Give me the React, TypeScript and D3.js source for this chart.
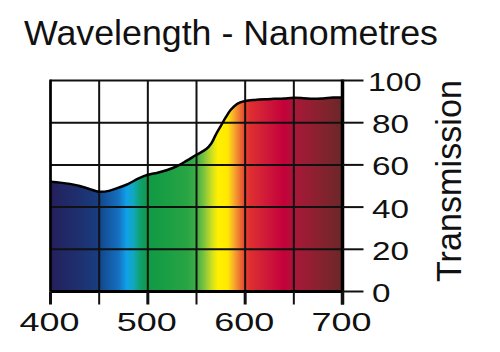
import React from "react";
import * as d3 from "d3";

const wavelengths = [400, 410, 420, 430, 440, 450, 460, 470, 480, 490, 500, 510, 520, 530, 540, 550, 560, 565, 570, 575, 580, 585, 590, 595, 600, 610, 620, 630, 640, 650, 660, 670, 680, 690, 700];
const transmission = [52, 51.6, 51, 50, 48.6, 47.3, 47.7, 49.2, 51, 53.5, 55.3, 56.3, 57.6, 59.4, 62, 64.8, 67.5, 70, 74.5, 78.5, 82.5, 86, 88.3, 89.6, 90.3, 90.8, 91.1, 91.3, 91.5, 91.8, 91.6, 91.3, 91.5, 91.9, 92];
const xTicks = [400, 450, 500, 550, 600, 650, 700];
const xLabels = [400, 500, 600, 700];
const yTicks = [0, 20, 40, 60, 80, 100];
const stopWl = [400, 430, 450, 452, 470, 478, 485, 492, 500, 540, 550, 558, 566, 572, 582, 587, 593, 598, 604, 620, 640, 651, 672, 700];
const stopColors = ["#24205c", "#1e3070", "#183e80", "#124a90", "#1570c0", "#10a0e8", "#10a8c0", "#10a070", "#0e9a44", "#28a444", "#3cae46", "#80c43c", "#d0e020", "#fff000", "#ffe800", "#f8b828", "#f08030", "#e85030", "#e03030", "#d01c38", "#c4003a", "#a81838", "#8e2030", "#6a2828"];

export default function App() {
  const W = 500, H = 352;
  const x = d3.scaleLinear().domain([400, 700]).range([50.5, 342.5]);
  const y = d3.scaleLinear().domain([0, 100]).range([291.5, 80.5]);
  const data = wavelengths.map((w, i) => ({ w, t: transmission[i] }));
  const area = d3.area<{ w: number; t: number }>()
    .x(d => x(d.w)).y0(y(0)).y1(d => y(d.t)).curve(d3.curveCatmullRom);
  const line = d3.line<{ w: number; t: number }>()
    .x(d => x(d.w)).y(d => y(d.t)).curve(d3.curveCatmullRom);
  const font = "'Liberation Sans', Arial, Helvetica, sans-serif";
  return (
    <svg width={W} height={H} style={{ position: "absolute", left: 0, top: 0, background: "#fff" }}>
      <defs>
        <linearGradient id="spec" gradientUnits="userSpaceOnUse" x1={x(400)} x2={x(700)} y1={0} y2={0}>
          {stopWl.map((w, i) => (
            <stop key={i} offset={(w - 400) / 300} stopColor={stopColors[i]} />
          ))}
        </linearGradient>
      </defs>
      <rect x={0} y={0} width={W} height={H} fill="#fff" />
      <path d={area(data) || ""} fill="url(#spec)" />
      {/* grid */}
      {xTicks.map(t => (
        <line key={"gx" + t} x1={x(t)} x2={x(t)} y1={y(100)} y2={y(0)} stroke="#111" strokeWidth={2} />
      ))}
      {yTicks.map(t => (
        <line key={"gy" + t} x1={x(400)} x2={x(700)} y1={y(t)} y2={y(t)} stroke="#111" strokeWidth={2} />
      ))}
      <path d={line(data) || ""} fill="none" stroke="#000" strokeWidth={2.5} />
      {/* frame */}
      <line x1={x(700)} x2={x(700)} y1={y(100) - 1} y2={y(0) + 13} stroke="#000" strokeWidth={3.5} />
      <line x1={x(400)} x2={x(400)} y1={y(100) - 1} y2={y(0)} stroke="#000" strokeWidth={2.5} />
      <line x1={x(400)} x2={x(700)} y1={y(0)} y2={y(0)} stroke="#000" strokeWidth={3} />
      {/* bottom ticks */}
      {xTicks.map(t => (
        <line key={"tx" + t} x1={x(t)} x2={x(t)} y1={y(0)} y2={y(0) + 13} stroke="#111" strokeWidth={t % 100 === 0 ? 3 : 2} />
      ))}
      {/* right ticks */}
      {yTicks.map(t => (
        <line key={"ty" + t} x1={x(700)} x2={x(700) + 21} y1={y(t)} y2={y(t)} stroke="#111" strokeWidth={2} />
      ))}
      {xLabels.map(t => (
        <text key={"lx" + t} x={x(t) - 31} y={331} fontFamily={font} fontSize={26} fill="#111"
          textLength={60} lengthAdjust="spacingAndGlyphs">{t}</text>
      ))}
      {yTicks.map(t => {
        const s = String(t);
        return (
          <text key={"ly" + t} x={s.length === 3 ? 368 : 372} y={y(t) + 10.5} fontFamily={font} fontSize={25} fill="#111"
            textLength={s.length * 18.5 - (s.length === 3 ? 2 : 0)} lengthAdjust="spacingAndGlyphs">{s}</text>
        );
      })}
      <text x={24} y={45} fontFamily={font} fontSize={35} fill="#111" textLength={414} lengthAdjust="spacingAndGlyphs">
        Wavelength - Nanometres
      </text>
      <text transform="translate(461,181) rotate(-90)" textAnchor="middle" fontFamily={font} fontSize={35} fill="#111"
        textLength={202} lengthAdjust="spacingAndGlyphs">
        Transmission
      </text>
    </svg>
  );
}
